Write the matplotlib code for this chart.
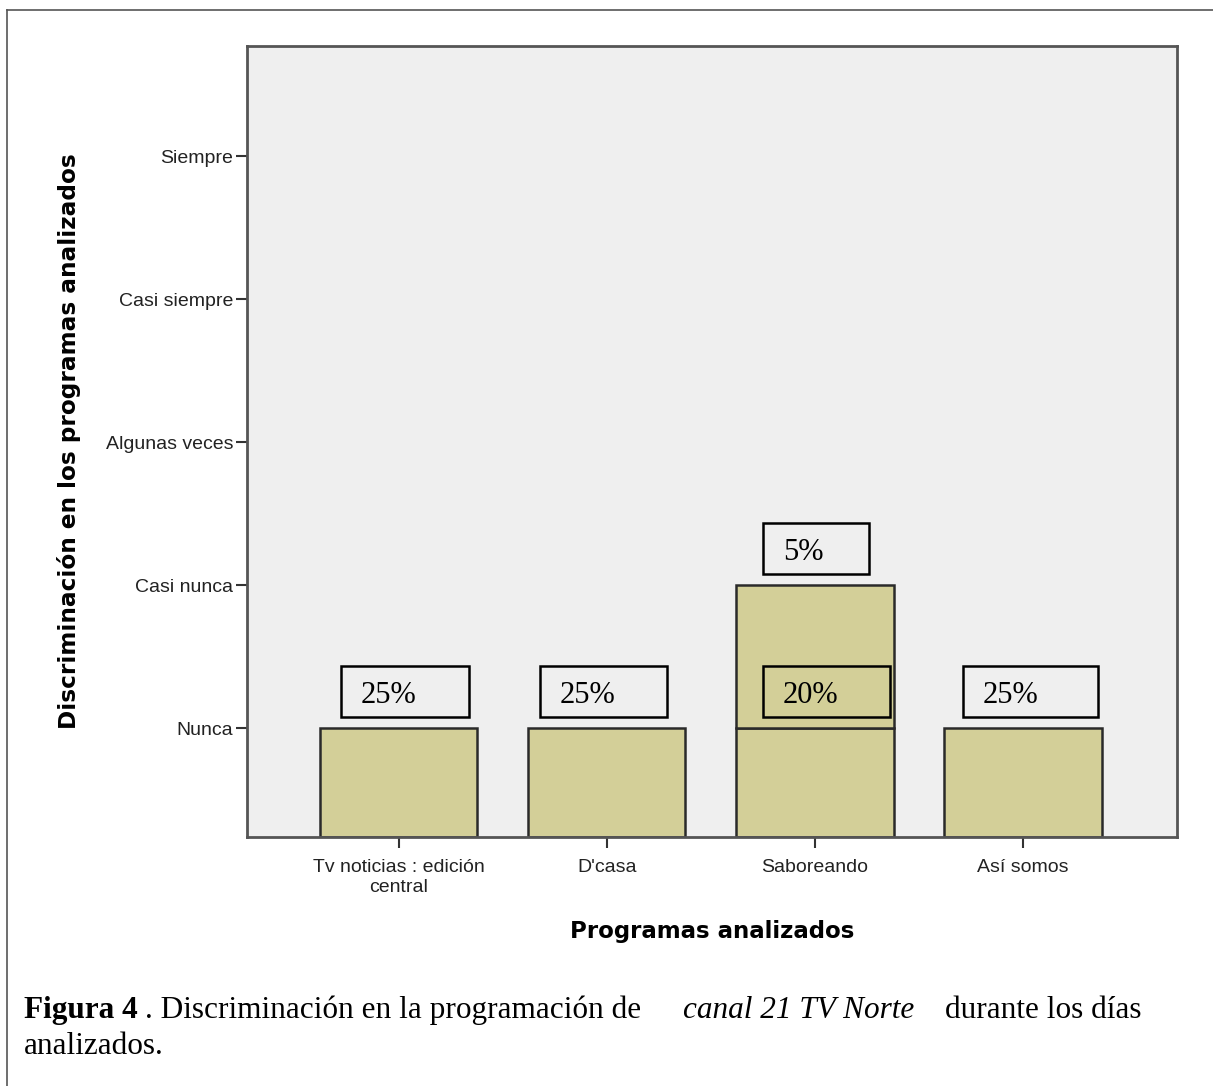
import matplotlib
matplotlib.use("Agg")
import matplotlib.pyplot as plt
from matplotlib.patches import Rectangle
from matplotlib.lines import Line2D

# ---- data ----
programs = ["Tv noticias : edición\ncentral", "D'casa", "Saboreando", "Así somos"]
levels = ["Nunca", "Casi nunca", "Algunas veces", "Casi siempre", "Siempre"]
# stacked segments: response level reached by each segment
seg_nunca = [1, 1, 1, 1]          # all programs reach "Nunca"
seg_casi_nunca = [0, 0, 1, 0]     # Saboreando also reaches "Casi nunca"
pct_nunca = ["25%", "25%", "20%", "25%"]
pct_casi_nunca = [None, None, "5%", None]

# ---- style ----
W, H = 1213, 1086
fig = plt.figure(figsize=(W / 100, H / 100), dpi=100)
fig.patch.set_facecolor("white")

ax = fig.add_axes([247 / W, 1 - 837 / H, (1177 - 247) / W, (837 - 46) / H])
ax.set_facecolor("#EFEFEF")
ymin, ymax = 0.24, 5.77
ax.set_ylim(ymin, ymax)
ax.set_xlim(-0.73, 3.74)

bar_color = "#D3CF98"
edge = "#2a2a2a"
width = 0.755
x = list(range(len(programs)))

ax.bar(x, [v - ymin for v in seg_nunca], bottom=ymin, width=width,
       color=bar_color, edgecolor=edge, linewidth=1.8, zorder=2)
sx = [i for i in x if seg_casi_nunca[i]]
ax.bar(sx, [seg_casi_nunca[i] for i in sx], bottom=1, width=width,
       color=bar_color, edgecolor=edge, linewidth=1.8, zorder=2)

ax.set_yticks(range(1, len(levels) + 1))
ax.set_yticklabels(levels, fontsize=14, family="Liberation Sans", color="#222222")
ax.set_xticks(x)
ax.set_xticklabels(programs, fontsize=14, family="Liberation Sans", color="#222222",
                   linespacing=1.25)
ax.tick_params(axis="both", direction="out", length=8, width=1.5, color="#333333", pad=2)
ax.tick_params(axis="x", pad=8)

for s in ["left", "bottom", "top", "right"]:
    ax.spines[s].set_color("#555555")
    ax.spines[s].set_linewidth(2)

ax.set_ylabel("Discriminación en los programas analizados", fontsize=16.7,
              fontweight="bold", family="DejaVu Sans")
ax.set_xlabel("Programas analizados", fontsize=16.5, fontweight="bold",
              family="DejaVu Sans")
ax.yaxis.set_label_coords(-0.178, 0.5)
ax.xaxis.set_label_coords(0.5, -0.105)

# percentage boxes (offsets from bar centre, data units)
box_off_nunca = [(-0.28, 0.335), (-0.32, 0.29), (-0.25, 0.36), (-0.29, 0.36)]
box_off_cn = [None, None, (-0.25, 0.26), None]
bh = 0.36
gap = 0.077


def draw_box(xc, off, ybase, label):
    x0, x1 = xc + off[0], xc + off[1]
    ax.add_patch(Rectangle((x0, ybase + gap), x1 - x0, bh, fill=False,
                           edgecolor="black", linewidth=1.8, zorder=4))
    ax.text(x0 + 0.095, ybase + gap + bh / 2 - 0.03, label, fontsize=22,
            family="Liberation Serif", ha="left", va="center", zorder=5)


for i in x:
    if pct_nunca[i]:
        draw_box(i, box_off_nunca[i], 1, pct_nunca[i])
    if pct_casi_nunca[i]:
        draw_box(i, box_off_cn[i], 2, pct_casi_nunca[i])

# caption
cy1 = 1 - 1018 / H
cy2 = 1 - 1054 / H
fs = 22.5
fig.text(24 / W, cy1, "Figura 4", fontsize=fs, family="Liberation Serif",
         fontweight="bold", va="baseline")
fig.text(145 / W, cy1, ". Discriminación en la programación de",
         fontsize=fs, family="Liberation Serif", va="baseline")
fig.text(683 / W, cy1, "canal 21 TV Norte", fontsize=fs,
         family="Liberation Serif", style="italic", va="baseline")
fig.text(945 / W, cy1, "durante los días", fontsize=fs,
         family="Liberation Serif", va="baseline")
fig.text(24 / W, cy2, "analizados.", fontsize=fs,
         family="Liberation Serif", va="baseline")

# outer frame
fig.add_artist(Line2D([7 / W, 7 / W], [0, 1 - 10 / H], transform=fig.transFigure,
                      color="#555555", linewidth=1.2))
fig.add_artist(Line2D([7 / W, 1], [1 - 10 / H, 1 - 10 / H], transform=fig.transFigure,
                      color="#555555", linewidth=1.2))

fig.savefig("out.png", dpi=100, facecolor="white")
